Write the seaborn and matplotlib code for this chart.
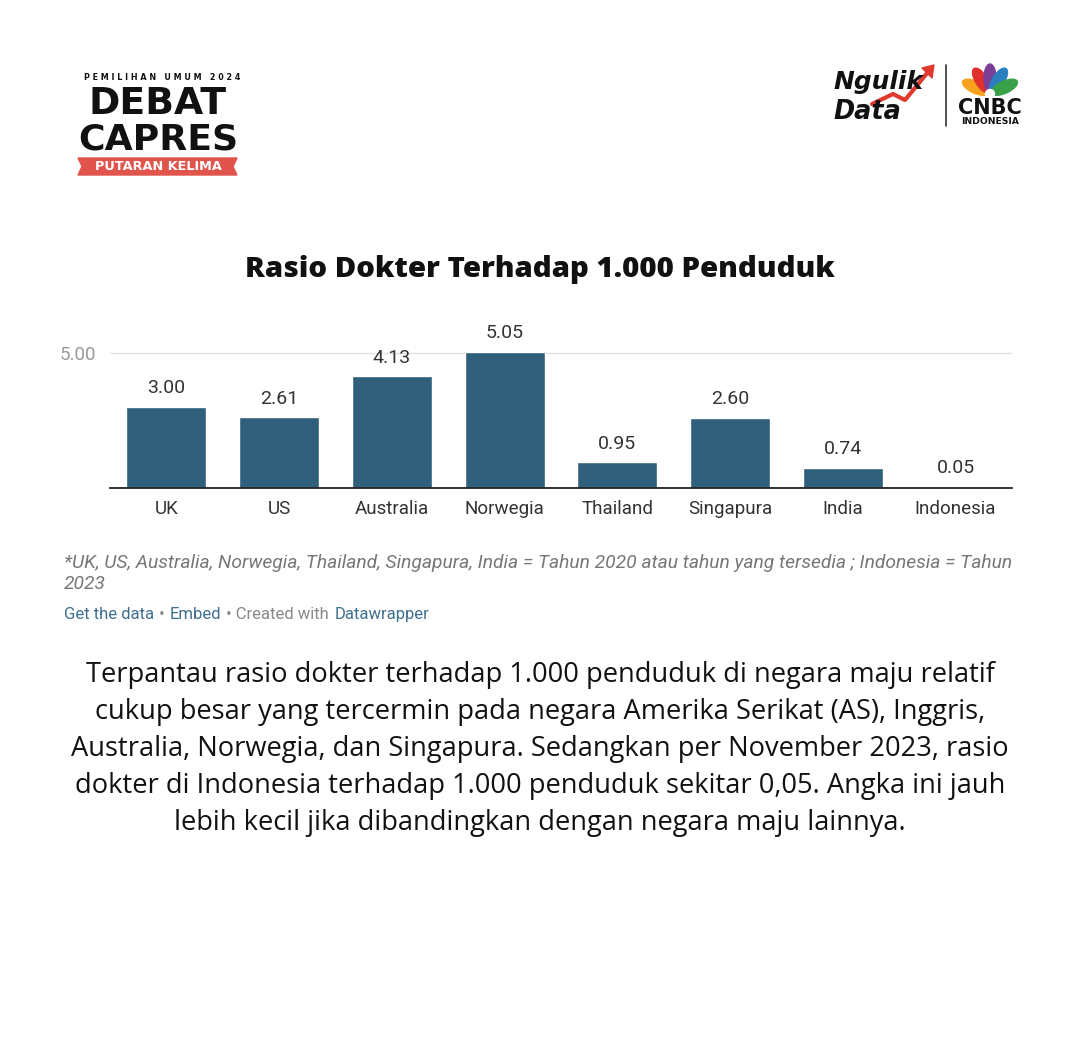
import pandas as pd
import seaborn as sns
import matplotlib.pyplot as plt
import numpy as np
from matplotlib.patches import Ellipse, Polygon

# Data
countries = ["UK", "US", "Australia", "Norwegia", "Thailand", "Singapura", "India", "Indonesia"]
ratio = [3.00, 2.61, 4.13, 5.05, 0.95, 2.60, 0.74, 0.05]
value_labels = ["3.00", "2.61", "4.13", "5.05", "0.95", "2.60", "0.74", "0.05"]

df = pd.DataFrame({"negara": countries, "rasio": ratio})

sns.set_theme(style="white")
plt.rcParams["font.family"] = ["Roboto", "DejaVu Sans"]

W, H = 1079, 1048
fig = plt.figure(figsize=(W / 100, H / 100), dpi=100)
fig.patch.set_facecolor("white")
renderer = fig.canvas.get_renderer()

# Chart axes (pixel layout: baseline y=488, x from 110 to 1012)
ax = fig.add_axes([110 / W, (H - 488) / H, 902 / W, 150 / H])
sns.barplot(data=df, x="negara", y="rasio", color="#2f5f7a", width=0.71,
            saturation=1, ax=ax, zorder=3)
ax.set_xlim(-0.5, len(countries) - 0.5)
ax.set_ylim(0, 5.55)
ax.set_yticks([5])
ax.set_yticklabels(["5.00"])
ax.yaxis.grid(True, color="#e2e2e2", linewidth=1, zorder=0)
ax.tick_params(axis="y", length=0, labelsize=13.5, labelcolor="#9a9a9a", pad=10)
ax.tick_params(axis="x", length=0, labelsize=13.5, labelcolor="#333333", pad=9)
ax.set_xlabel("")
ax.set_ylabel("")
for s in ["top", "right", "left"]:
    ax.spines[s].set_visible(False)
ax.spines["bottom"].set_color("#222222")
ax.spines["bottom"].set_linewidth(1.3)
ax.spines["bottom"].set_zorder(4)
for i, (v, lab) in enumerate(zip(ratio, value_labels)):
    ax.annotate(lab, (i, v), xytext=(0, 7), textcoords="offset points",
                ha="center", va="bottom", fontsize=14, color="#333333",
                annotation_clip=False)

# Overlay in pixel coordinates for texts and decorations
ov = fig.add_axes([0, 0, 1, 1], zorder=-1)
ov.set_xlim(0, W)
ov.set_ylim(H, 0)
ov.axis("off")


def fit_text(x, y, s, width, **kw):
    # draw text and scale its font size so it spans the given pixel width
    t = ov.text(x, y, s, **kw)
    w = t.get_window_extent(renderer).width
    t.set_fontsize(t.get_fontsize() * width / w)
    return t


def width_of(t):
    return t.get_window_extent(renderer).width


# Title
fit_text(540, 270, "Rasio Dokter Terhadap 1.000 Penduduk", 590, ha="center", va="center",
         fontsize=20, fontweight="heavy", color="#111111", family=["Open Sans", "DejaVu Sans"])

# Footnotes
foot = fit_text(64, 563, "*UK, US, Australia, Norwegia, Thailand, Singapura, India = Tahun 2020 atau tahun yang tersedia ; Indonesia = Tahun",
                946, ha="left", va="center", fontsize=11, style="italic", color="#777777")
ov.text(64, 584, "2023", ha="left", va="center", fontsize=foot.get_fontsize(),
        style="italic", color="#777777")

# Credit line, pieces laid out one after the other
pieces = [("Get the data", "#3f6f8f"), (" • ", "#888888"), ("Embed", "#3f6f8f"),
          (" • Created with ", "#888888"), ("Datawrapper", "#3f6f8f")]
xpos = 64
for txt, col in pieces:
    t = ov.text(xpos, 619, txt, ha="left", va="baseline", fontsize=12, color=col)
    xpos += width_of(t) + 1

# Body text
body = ["Terpantau rasio dokter terhadap 1.000 penduduk di negara maju relatif",
        "cukup besar yang tercermin pada negara Amerika Serikat (AS), Inggris,",
        "Australia, Norwegia, dan Singapura. Sedangkan per November 2023, rasio",
        "dokter di Indonesia terhadap 1.000 penduduk sekitar 0,05. Angka ini jauh",
        "lebih kecil jika dibandingkan dengan negara maju lainnya."]
first = fit_text(540, 675, body[0], 910, ha="center", va="center", fontsize=17,
                 color="#111111", family=["Open Sans", "DejaVu Sans"])
for k, line in enumerate(body[1:], start=1):
    ov.text(540, 675 + 37 * k, line, ha="center", va="center", fontsize=first.get_fontsize(),
            color="#111111", family=["Open Sans", "DejaVu Sans"])

# Header left: Debat Capres badge
fit_text(162, 77, "P E M I L I H A N   U M U M   2 0 2 4", 158, ha="center", va="center",
         fontsize=6.5, fontweight="bold", color="#111111", family=["DejaVu Sans"])
fit_text(158, 104, "DEBAT", 138, ha="center", va="center", fontsize=27, fontweight="heavy",
         color="#111111", family=["DejaVu Sans"])
fit_text(158, 139, "CAPRES", 160, ha="center", va="center", fontsize=27, fontweight="heavy",
         color="#111111", family=["DejaVu Sans"])
ov.add_patch(Polygon([[78, 158], [237, 158], [233, 166.5], [237, 175], [78, 175], [82, 166.5]],
                     closed=True, color="#e0544c"))
fit_text(158, 167, "PUTARAN KELIMA", 128, ha="center", va="center", fontsize=8.5,
         fontweight="bold", color="white", family=["DejaVu Sans"])

# Header right: Ngulik Data + CNBC
fit_text(833, 82, "Ngulik", 90, ha="left", va="center", fontsize=16, fontweight="heavy",
         style="italic", color="#111111", family=["DejaVu Sans"])
fit_text(833, 112, "Data", 68, ha="left", va="center", fontsize=16, fontweight="heavy",
         style="italic", color="#111111", family=["DejaVu Sans"])
ov.plot([872, 893, 905, 928], [104, 94, 100, 72], color="#e03a2f", linewidth=3, solid_capstyle="round")
ov.add_patch(Polygon([[922, 68], [934, 65], [932, 78]], closed=True, color="#e03a2f"))
ov.plot([946, 946], [65, 126], color="#333333", linewidth=1.2)
feather_colors = ["#f6a21d", "#e0312f", "#7b3f98", "#2a7fc1", "#3aa14b"]
feather_angles = [155, 122, 90, 58, 25]
cx, cy = 990, 94
for col, ang in zip(feather_colors, feather_angles):
    r = np.deg2rad(ang)
    ov.add_patch(Ellipse((cx + 16 * np.cos(r), cy - 16 * np.sin(r)), 12, 28,
                         angle=90 - ang, color=col))
ov.add_patch(Ellipse((cx, cy), 9, 9, color="white"))
fit_text(990, 114, "CNBC", 64, ha="center", va="baseline", fontsize=12.5, fontweight="heavy",
         color="#111111", family=["DejaVu Sans"])
fit_text(990, 124, "INDONESIA", 58, ha="center", va="baseline", fontsize=5.5, fontweight="bold",
         color="#111111", family=["DejaVu Sans"])

plt.savefig("out.png", dpi=100, facecolor="white")
plt.close()
